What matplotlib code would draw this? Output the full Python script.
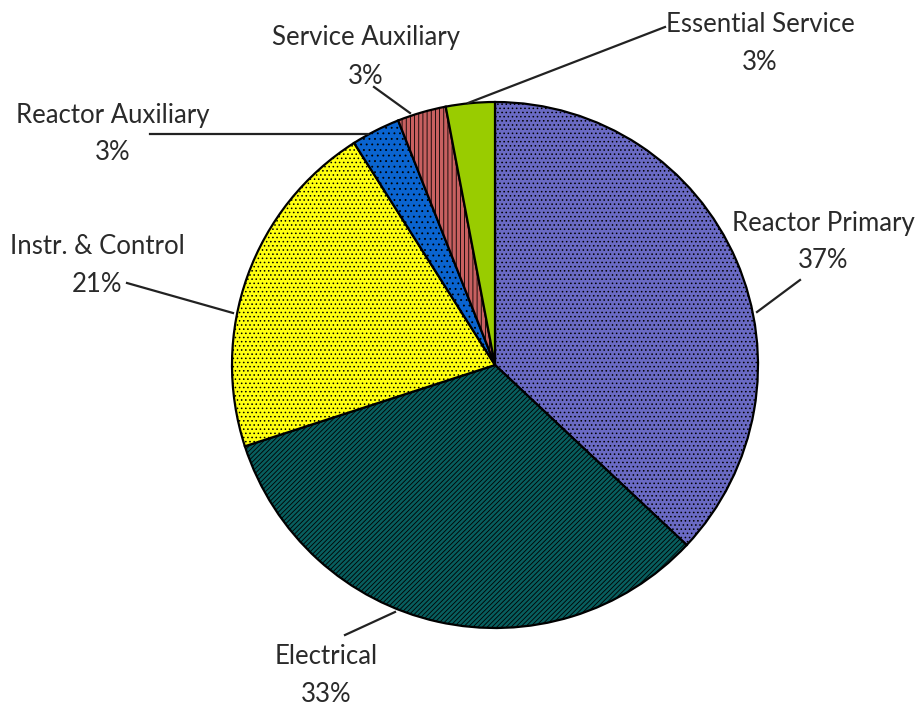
"""Pie chart of component share by system."""

import matplotlib.pyplot as plt

systems = [
    "Reactor Primary",
    "Electrical",
    "Instr. & Control",
    "Reactor Auxiliary",
    "Service Auxiliary",
    "Essential Service",
]
shares = [37, 33, 21, 3, 3, 3]

colors = ["#6a6ac4", "#085e5e", "#ffff10", "#0a64d0", "#c86060", "#99cc00"]
hatches = ["....", "///////", "....", "...", "||||", None]

# label text centre and leader line (text end -> pie edge), in pixel coords
label_pos = [(823, 242), (326, 676), (97, 266), (113, 134), (366, 57), (760, 44)]
leader = [
    ((800, 280), (757, 312)),
    ((345, 635), (395, 612)),
    ((127, 283), (233, 313)),
    ((150, 134), (368, 134)),
    ((374, 87), (410, 113)),
    ((665, 27), (468, 103)),
]

W, H = 919, 706
plt.rcParams["hatch.linewidth"] = 0.6
plt.rcParams["font.family"] = ["Lato", "DejaVu Sans"]

fig = plt.figure(figsize=(W / 100, H / 100), dpi=100)
ax = fig.add_axes([0, 0, 1, 1])
ax.set_xlim(0, W)
ax.set_ylim(0, H)
ax.set_aspect("equal")


def flip(p):
    return (p[0], H - p[1])


wedges, _ = ax.pie(
    shares,
    colors=colors,
    startangle=90,
    counterclock=False,
    center=(495, H - 365),
    radius=263,
    frame=True,
    wedgeprops=dict(edgecolor="black", linewidth=1.6),
)
ax.axis("off")
for w, h in zip(wedges, hatches):
    if h:
        w.set_hatch(h)

for name, val, pos, (a, b) in zip(systems, shares, label_pos, leader):
    ax.text(*flip(pos), f"{name}\n{val}%", ha="center", va="center",
            fontsize=18.5, linespacing=1.65, color="#2a2a2a")
    ax.plot([a[0], b[0]], [H - a[1], H - b[1]], color="#222222", lw=1.6)

fig.savefig("out.png", dpi=100)
